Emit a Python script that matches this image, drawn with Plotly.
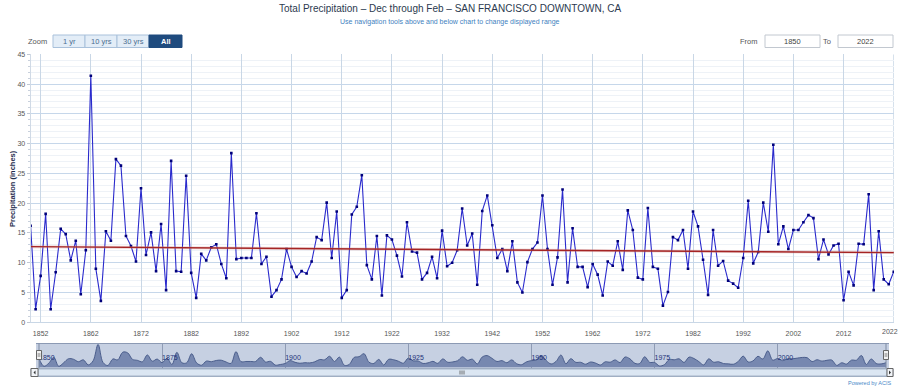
import plotly.graph_objects as go

W, H = 900, 388

years = list(range(1850, 2023))
precip = [
    # 1850-1883
    16.2, 2.2, 7.8, 18.2, 2.2, 8.4, 15.7, 14.8, 10.4, 13.7,
    4.7, 12.1, 41.4, 9.0, 3.6, 15.3, 13.7, 27.4, 26.3, 14.5,
    12.8, 10.2, 22.5, 11.3, 15.1, 8.6, 16.5, 5.4, 27.1, 8.6,
    8.5, 24.6, 8.3, 4.1,
    # 1884-1907
    11.5, 10.4, 12.6, 13.1, 9.8, 7.4, 28.4, 10.6, 10.8, 10.8,
    10.8, 18.3, 9.8, 11.0, 4.3, 5.4, 7.2, 12.3, 9.3, 7.6,
    8.6, 8.2, 10.2, 14.3,
    # 1908-1936
    13.8, 20.1, 10.8, 18.6, 4.1, 5.4, 18.1, 19.4, 24.7, 9.6,
    7.2, 14.5, 4.5, 14.6, 13.9, 11.2, 7.7, 16.8, 11.9, 11.7,
    7.2, 8.3, 11.0, 7.4, 15.4, 9.4, 10.0, 12.1, 19.1,
    # 1937-1965
    12.9, 14.9, 6.3, 18.7, 21.3, 16.3, 10.8, 12.3, 8.6, 13.6,
    6.7, 5.0, 10.1, 12.3, 13.4, 21.3, 12.3, 6.3, 10.9, 22.3,
    6.7, 15.8, 9.3, 9.3, 5.9, 9.8, 8.0, 4.5, 10.2,
    # 1966-1994
    9.5, 13.6, 8.8, 18.8, 15.5, 7.5, 7.2, 19.2, 9.3, 9.0,
    2.8, 5.1, 14.3, 13.8, 15.5, 9.0, 18.6, 16.1, 10.5, 4.6,
    15.5, 9.5, 10.3, 7.0, 6.5, 5.8, 10.8, 20.4, 9.9,
    # 1995-2022
    11.8, 20.1, 15.2, 29.8, 13.1, 16.1, 12.3, 15.5, 15.5, 16.8,
    18.0, 17.5, 10.6, 13.9, 11.4, 12.9, 13.2, 3.7, 8.5, 6.2,
    13.2, 13.1, 21.5, 5.4, 15.3, 7.2, 6.4, 8.5,
]

trend_years = [1850, 2022]
trend_vals = [12.7, 11.7]

x_ticks = list(range(1852, 2023, 10))
y_ticks = list(range(0, 46, 5))
nav_ticks = [1850, 1875, 1900, 1925, 1950, 1975, 2000]

title_text = "Total Precipitation \u2013 Dec through Feb \u2013 SAN FRANCISCO DOWNTOWN, CA"
subtitle_text = "Use navigation tools above and below chart to change displayed range"
zoom_buttons = ["1 yr", "10 yrs", "30 yrs", "All"]
from_label, to_label = "From", "To"
from_val, to_val = "1850", "2022"


def px(x):
    return x / W


def py(y):
    return (H - y) / H


FONT = "Liberation Sans, Arial, sans-serif"

fig = go.Figure()

# main series
fig.add_trace(go.Scatter(
    x=years, y=precip, mode="lines+markers",
    line=dict(color="#2a2acc", width=1.1),
    marker=dict(symbol="square", size=2.6, color="#00007a"),
    xaxis="x", yaxis="y", showlegend=False, hoverinfo="x+y",
))
# trend line (halo + line)
fig.add_trace(go.Scatter(
    x=trend_years, y=trend_vals, mode="lines",
    line=dict(color="rgba(205,140,140,0.35)", width=3),
    xaxis="x", yaxis="y", showlegend=False, hoverinfo="skip",
))
fig.add_trace(go.Scatter(
    x=trend_years, y=trend_vals, mode="lines",
    line=dict(color="#a52424", width=1.4),
    xaxis="x", yaxis="y", showlegend=False, hoverinfo="skip",
))

# navigator series
fig.add_trace(go.Scatter(
    x=years, y=precip, mode="lines", line_shape="spline",
    line=dict(color="#4b5e8c", width=1, smoothing=1.0),
    fill="tozeroy", fillcolor="#7788b0",
    xaxis="x2", yaxis="y2", showlegend=False, hoverinfo="skip",
))

shapes = []
annotations = []

# navigator background
shapes.append(dict(type="rect", xref="paper", yref="paper",
                   x0=px(36), x1=px(889), y0=py(368), y1=py(343.5),
                   fillcolor="#c6d0e2", line=dict(width=0), layer="below"))
shapes.append(dict(type="line", xref="paper", yref="paper",
                   x0=px(36), x1=px(889), y0=py(343.5), y1=py(343.5),
                   line=dict(color="#8c9ab4", width=1)))

# scrollbar
shapes.append(dict(type="rect", xref="paper", yref="paper",
                   x0=px(31), x1=px(893), y0=py(376.5), y1=py(368.5),
                   fillcolor="#e9f0f8", line=dict(color="#9aa8bc", width=1)))
shapes.append(dict(type="rect", xref="paper", yref="paper",
                   x0=px(38), x1=px(887), y0=py(376), y1=py(369),
                   fillcolor="#dbe6f2", line=dict(color="#a6b5c9", width=1)))
for bx0, bx1 in [(31, 38), (887, 893)]:
    shapes.append(dict(type="rect", xref="paper", yref="paper",
                       x0=px(bx0), x1=px(bx1), y0=py(376.5), y1=py(368.5),
                       fillcolor="#f1f4f8", line=dict(color="#666", width=1)))
# arrows
shapes.append(dict(type="path", xref="paper", yref="paper",
                   path=f"M {px(35.5)},{py(370.5)} L {px(33.5)},{py(372.5)} L {px(35.5)},{py(374.5)} Z",
                   fillcolor="#333", line=dict(width=0)))
shapes.append(dict(type="path", xref="paper", yref="paper",
                   path=f"M {px(889)},{py(370.5)} L {px(891)},{py(372.5)} L {px(889)},{py(374.5)} Z",
                   fillcolor="#333", line=dict(width=0)))
for gx in (460, 462, 464):
    shapes.append(dict(type="line", xref="paper", yref="paper",
                       x0=px(gx), x1=px(gx), y0=py(370.5), y1=py(374.5),
                       line=dict(color="#555", width=0.8)))

# navigator handles
for hx in (39, 886):
    shapes.append(dict(type="line", xref="paper", yref="paper",
                       x0=px(hx), x1=px(hx), y0=py(368), y1=py(343.5),
                       line=dict(color="#7d8aa3", width=1)))
    shapes.append(dict(type="rect", xref="paper", yref="paper",
                       x0=px(hx - 2.5), x1=px(hx + 2.5), y0=py(359.5), y1=py(350.5),
                       fillcolor="#f2f2f2", line=dict(color="#666", width=1)))
    for lx in (hx - 0.8, hx + 0.8):
        shapes.append(dict(type="line", xref="paper", yref="paper",
                           x0=px(lx), x1=px(lx), y0=py(353), y1=py(357),
                           line=dict(color="#666", width=0.6)))

# zoom buttons
btn_x = [(53, 85), (85, 117), (117, 149), (149, 182)]
for i, (label, (bx0, bx1)) in enumerate(zip(zoom_buttons, btn_x)):
    sel = label == "All"
    shapes.append(dict(type="rect", xref="paper", yref="paper",
                       x0=px(bx0), x1=px(bx1), y0=py(47.5), y1=py(35),
                       fillcolor="#1f4b7e" if sel else "#e3edf7",
                       line=dict(color="#1f4b7e" if sel else "#a9c1db", width=1)))
    annotations.append(dict(xref="paper", yref="paper", x=px((bx0 + bx1) / 2), y=py(41.3),
                            text=f"<b>{label}</b>" if sel else label, showarrow=False,
                            xanchor="center", yanchor="middle",
                            font=dict(family=FONT, size=7.5, color="#ffffff" if sel else "#4d6d90")))
annotations.append(dict(xref="paper", yref="paper", x=px(49), y=py(41.3), text="Zoom",
                        showarrow=False, xanchor="right", yanchor="middle",
                        font=dict(family=FONT, size=7.5, color="#555")))

# From / To boxes
for (bx0, bx1), val in [((765, 820), from_val), ((838, 893), to_val)]:
    shapes.append(dict(type="rect", xref="paper", yref="paper",
                       x0=px(bx0), x1=px(bx1), y0=py(47.5), y1=py(35),
                       fillcolor="#ffffff", line=dict(color="#c2c8d0", width=1)))
    annotations.append(dict(xref="paper", yref="paper", x=px((bx0 + bx1) / 2), y=py(41.3),
                            text=val, showarrow=False, xanchor="center", yanchor="middle",
                            font=dict(family=FONT, size=7.5, color="#444")))
annotations.append(dict(xref="paper", yref="paper", x=px(760), y=py(41.3), text=from_label,
                        showarrow=False, xanchor="right", yanchor="middle",
                        font=dict(family=FONT, size=7.5, color="#555")))
annotations.append(dict(xref="paper", yref="paper", x=px(833), y=py(41.3), text=to_label,
                        showarrow=False, xanchor="right", yanchor="middle",
                        font=dict(family=FONT, size=7.5, color="#555")))

# last x tick label, kept inside the page edge
annotations.append(dict(xref="paper", yref="paper", x=px(899.5), y=py(331.5), text=str(x_ticks[-1]),
                        showarrow=False, xanchor="right", yanchor="middle",
                        font=dict(family=FONT, size=7, color="#555")))

# titles
annotations.append(dict(xref="paper", yref="paper", x=0.5, y=py(8.5), text=title_text,
                        showarrow=False, xanchor="center", yanchor="middle",
                        font=dict(family=FONT, size=10, color="#2b3a4f")))
annotations.append(dict(xref="paper", yref="paper", x=0.5, y=py(21.5), text=subtitle_text,
                        showarrow=False, xanchor="center", yanchor="middle",
                        font=dict(family=FONT, size=7, color="#3f7fc0")))
annotations.append(dict(xref="paper", yref="paper", x=px(12), y=py(189),
                        text="<b>Precipitation (inches)</b>", textangle=-90,
                        showarrow=False, xanchor="center", yanchor="middle",
                        font=dict(family=FONT, size=7.5, color="#1d2b4d")))
annotations.append(dict(xref="paper", yref="paper", x=px(893), y=py(383), text="Powered by ACIS",
                        showarrow=False, xanchor="right", yanchor="middle",
                        font=dict(family=FONT, size=5.5, color="#4a88c8")))

fig.update_layout(
    width=W, height=H,
    margin=dict(l=0, r=0, t=0, b=0),
    paper_bgcolor="#ffffff", plot_bgcolor="#ffffff",
    showlegend=False,
    shapes=shapes, annotations=annotations,
    xaxis=dict(
        domain=[px(30.6), px(894.0)], range=[1850, 2022.05],
        tickvals=x_ticks[:-1], ticktext=[str(v) for v in x_ticks[:-1]],
        showgrid=True, gridcolor="#c9d7e6", gridwidth=1,
        zeroline=False, showline=True, linecolor="#c9d7e6",
        ticks="outside", ticklen=4, tickcolor="rgba(0,0,0,0)",
        tickfont=dict(family=FONT, size=7, color="#555"),
        automargin=False, anchor="y", fixedrange=True,
    ),
    yaxis=dict(
        domain=[py(322.3), py(54.3)], range=[0, 45],
        tickvals=y_ticks, showgrid=True, gridcolor="#c6d7ea", gridwidth=1.2,
        minor=dict(dtick=1, showgrid=True, gridcolor="#eef2f7", gridwidth=1,
                   ticks="outside", ticklen=2, tickcolor="#c8d0dc"),
        zeroline=False, showline=True, linecolor="#d0dae6",
        ticks="outside", ticklen=3, tickcolor="#c0c8d4",
        tickfont=dict(family=FONT, size=7, color="#555"),
        automargin=False, anchor="x", fixedrange=True,
    ),
    xaxis2=dict(
        domain=[px(39), px(886)], range=[1850, 2022],
        tickvals=nav_ticks, ticktext=[str(v) for v in nav_ticks],
        ticklabelposition="inside right",
        showgrid=True, gridcolor="#8f9cb5", gridwidth=1,
        zeroline=False, showline=False, ticks="",
        tickfont=dict(family=FONT, size=7, color="#23327a"),
        automargin=False, anchor="y2", fixedrange=True,
    ),
    yaxis2=dict(
        domain=[py(367.5), py(343.5)], range=[0, 43],
        showgrid=False, showticklabels=False, zeroline=False, ticks="",
        automargin=False, anchor="x2", fixedrange=True,
    ),
)

# keep the 2022 gridline that the tick list no longer draws
fig.add_shape(type="line", xref="x", yref="y", x0=x_ticks[-1], x1=x_ticks[-1], y0=0, y1=45,
              line=dict(color="#c9d7e6", width=1), layer="below")

fig.write_html("out.html")
